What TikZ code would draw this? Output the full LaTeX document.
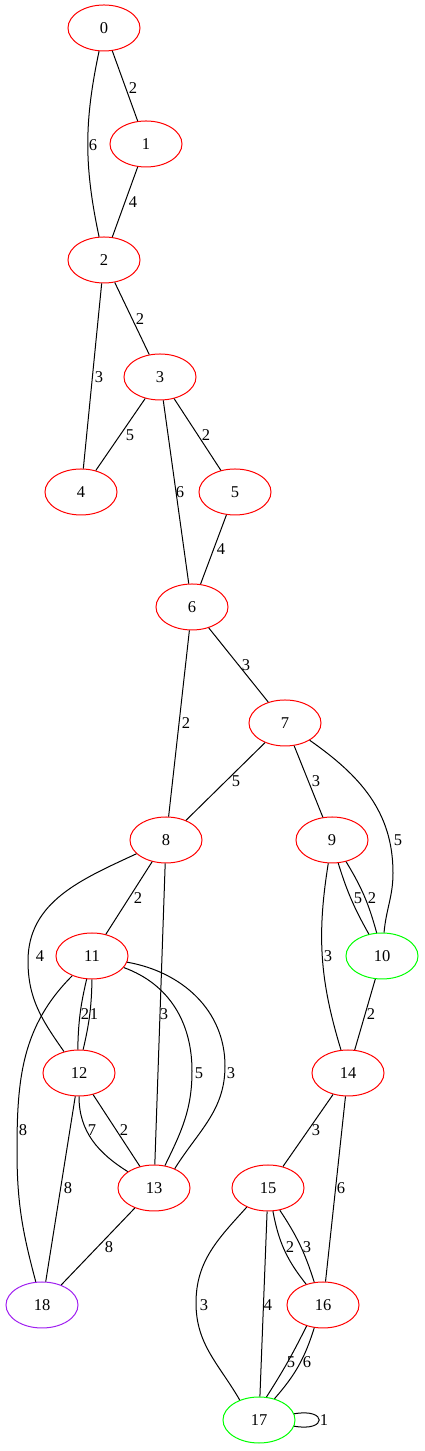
\documentclass[tikz,border=0pt]{standalone}
\usepackage{fontspec}
\setmainfont{Liberation Serif}
\usepackage{tikz}
\usetikzlibrary{shapes.geometric}
\definecolor{vgreen}{RGB}{0,255,0}
\definecolor{vpurple}{RGB}{160,32,240}
\begin{document}
\begin{tikzpicture}[x=1pt,y=1pt,line width=1pt,
	vert/.style={ellipse,draw,minimum width=72pt,minimum height=46pt,inner sep=0pt,font=\fontsize{16.5}{18}\selectfont},
	lbl/.style={inner sep=0pt,font=\fontsize{16.5}{18}\selectfont}]
			\useasboundingbox (0,0) rectangle (424,1451);
			\foreach \n/\x/\y/\c in {0/104/1423/red,1/146/1307/red,2/104/1191/red,3/160/1074/red,4/81/959/red,5/235/959/red,6/192/844/red,7/285/728/red,8/166/611/red,9/332/611/red,10/382/495/vgreen,11/92/495/red,12/79/378/red,13/154/263/red,14/348/378/red,15/268/263/red,16/323/146/red,17/259/31/vgreen,18/42/146/vpurple} {
				\node[vert,draw=\c] (n\n) at (\x,\y) {\n};
			};
			\foreach \a/\b/\lx/\ly/\w in {0/1/133/1363/2,1/2/133/1249/4,2/3/140/1132/2,2/4/99/1074/3,3/4/130/1016/5,3/5/206/1016/2,3/6/180/959/6,5/6/221/902/4,6/7/246/786/3,6/8/186/728/2,7/8/236/670/5,7/9/316/670/3,10/14/371/437/2,8/11/138/553/2,8/13/164/437/3,12/13/124/321/2,12/18/68/263/8,13/18/109/204/8,14/15/316/321/3,14/16/341/263/6,15/17/268/146/4} {
				\draw (n\a) -- (n\b) node[lbl] (e\a x\b) at (\lx,\ly) {\w};
			};
			
			\draw (n0) to[bend right=12] (n2) node[lbl] (e0x2) at (93,1306) {6};
			\draw (n9) to[bend right=13] (n14) node[lbl] (e9x14) at (328,495) {3};
			\draw (n7) to[out=-35,in=90] (393,578) to[out=-90,in=85] (n10) node[lbl] (e7x10) at (398,611) {5};
			\draw (n9.-75) to[bend right=6] (n10.121) node[lbl] (e9x10a) at (358,553) {5};
			\draw (n9.-57) to[bend left=8] (n10.103) node[lbl] (e9x10b) at (372,553) {2};
			\draw (n8) to[out=205,in=90] (28,490) to[out=-90,in=125] (n12) node[lbl] (e8x12) at (40,495) {4};
			\draw (n11.-103) to[bend right=6] (n12.93) node[lbl] (e11x12a) at (85,437) {2};
			\draw (n11.-90) to[bend left=6] (n12.80) node[lbl] (e11x12b) at (94,437) {1};
			\draw (n11) to[out=-20,in=90] (192,380) to[out=-90,in=64] (n13) node[lbl] (e11x13a) at (199,378) {5};
			\draw (n11) to[out=-10,in=90] (225,385) to[out=-90,in=58] (n13.43) node[lbl] (e11x13b) at (231,378) {3};
			\draw (n11) to[out=225,in=90] (17,300) to[out=-90,in=105] (n18) node[lbl] (e11x18) at (23,321) {8};
			\draw (n12) to[out=-90,in=148] (n13) node[lbl] (e12x13) at (92,321) {7};
			\draw (n15.-78) to[bend right=14] (n16.129) node[lbl] (e15x16a) at (290,204) {2};
			\draw (n15.-62) to[bend left=8] (n16.111) node[lbl] (e15x16b) at (307,204) {3};
			\draw (n15.222) to[out=228,in=90] (196,148) to[out=-90,in=120] (n17.134) node[lbl] (e15x17) at (204,146) {3};
			\draw (n16.232) to[bend left=3] (n17.72) node[lbl] (e16x17a) at (291,89) {5};
			\draw (n16.249) to[bend left=12] (n17.54) node[lbl] (e16x17b) at (307,89) {6};
			\draw (n17) to[out=10,in=-10,looseness=7] (n17) node[lbl] (e17x17) at (324,31) {1};
	\end{tikzpicture}
\end{document}
